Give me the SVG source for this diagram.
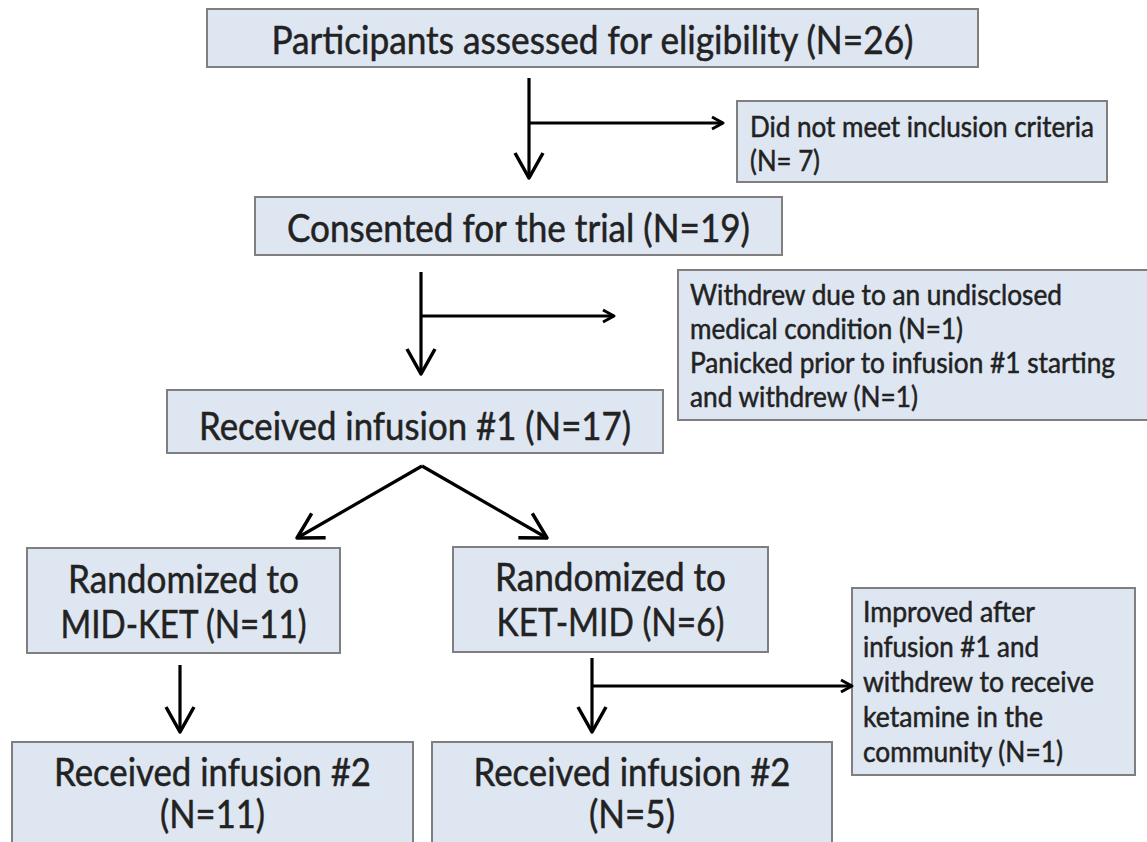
<svg xmlns="http://www.w3.org/2000/svg" width="1147" height="842" viewBox="0 0 1147 842">
<defs>
<style>
.box{fill:#dde6f1;stroke:#7f7f7f;stroke-width:2}
.t{font-family:Lato,"Liberation Sans",sans-serif;fill:#222;stroke:#222;stroke-width:0.5}
.big{font-size:38px;text-anchor:middle}
.sm{font-size:28px}
.ln{fill:none;stroke:#000;stroke-width:3.2}
</style>
<marker id="vb" markerUnits="userSpaceOnUse" viewBox="-30 -20 40 40" markerWidth="40" markerHeight="40" refX="0" refY="0" orient="auto" overflow="visible">
<path d="M-25,-14 L0,0 L-25,14" fill="none" stroke="#000" stroke-width="3.5" stroke-linejoin="round"/>
</marker>
<marker id="vs" markerUnits="userSpaceOnUse" viewBox="-20 -10 24 20" markerWidth="24" markerHeight="20" refX="0" refY="0" orient="auto" overflow="visible">
<path d="M-11,-6 L0,0 L-11,6" fill="none" stroke="#000" stroke-width="3" stroke-linejoin="round"/>
</marker>
</defs>
<rect width="1147" height="842" fill="#fff"/>
<g id="n-assessed">
<rect class="box" x="207" y="9" width="771" height="58"/>
<text class="t big" x="592.5" y="54" textLength="642" lengthAdjust="spacingAndGlyphs">Participants assessed for eligibility (N=26)</text>
</g>
<g id="n-excluded">
<rect class="box" x="737" y="101" width="370" height="81"/>
<text class="t sm" x="750" y="137" textLength="344" lengthAdjust="spacingAndGlyphs">Did not meet inclusion criteria</text>
<text class="t sm" x="750" y="171" textLength="70" lengthAdjust="spacingAndGlyphs">(N= 7)</text>
</g>
<g id="n-consented">
<rect class="box" x="255" y="197" width="527" height="58"/>
<text class="t big" x="518.5" y="242" textLength="463" lengthAdjust="spacingAndGlyphs">Consented for the trial (N=19)</text>
</g>
<g id="n-withdrew">
<rect class="box" x="678" y="270" width="475" height="150"/>
<text class="t sm" x="690" y="305" textLength="372" lengthAdjust="spacingAndGlyphs">Withdrew due to an undisclosed</text>
<text class="t sm" x="690" y="339" textLength="273" lengthAdjust="spacingAndGlyphs">medical condition (N=1)</text>
<text class="t sm" x="690" y="373" textLength="425" lengthAdjust="spacingAndGlyphs">Panicked prior to infusion #1 starting</text>
<text class="t sm" x="690" y="407" textLength="228" lengthAdjust="spacingAndGlyphs">and withdrew (N=1)</text>
</g>
<g id="n-infusion1">
<rect class="box" x="167" y="390" width="496" height="63"/>
<text class="t big" x="415" y="440" textLength="432" lengthAdjust="spacingAndGlyphs">Received infusion #1 (N=17)</text>
</g>
<g id="n-midket">
<rect class="box" x="27" y="548" width="313" height="105"/>
<text class="t big" x="183.5" y="593" textLength="231" lengthAdjust="spacingAndGlyphs">Randomized to</text>
<text class="t big" x="183.5" y="638" textLength="246" lengthAdjust="spacingAndGlyphs">MID-KET (N=11)</text>
</g>
<g id="n-ketmid">
<rect class="box" x="453" y="547" width="315" height="105"/>
<text class="t big" x="610.5" y="591" textLength="231" lengthAdjust="spacingAndGlyphs">Randomized to</text>
<text class="t big" x="610.5" y="636" textLength="228" lengthAdjust="spacingAndGlyphs">KET-MID (N=6)</text>
</g>
<g id="n-improved">
<rect class="box" x="852" y="588" width="283" height="187"/>
<text class="t sm" x="863" y="622" textLength="172" lengthAdjust="spacingAndGlyphs">Improved after</text>
<text class="t sm" x="863" y="657" textLength="176" lengthAdjust="spacingAndGlyphs">infusion #1 and</text>
<text class="t sm" x="863" y="692" textLength="231" lengthAdjust="spacingAndGlyphs">withdrew to receive</text>
<text class="t sm" x="863" y="727" textLength="180" lengthAdjust="spacingAndGlyphs">ketamine in the</text>
<text class="t sm" x="863" y="762" textLength="200" lengthAdjust="spacingAndGlyphs">community (N=1)</text>
</g>
<g id="n-infusion2a">
<rect class="box" x="12" y="742" width="401" height="110"/>
<text class="t big" x="212.5" y="786" textLength="317" lengthAdjust="spacingAndGlyphs">Received infusion #2</text>
<text class="t big" x="212.5" y="828" textLength="105" lengthAdjust="spacingAndGlyphs">(N=11)</text>
</g>
<g id="n-infusion2b">
<rect class="box" x="432" y="742" width="400" height="110"/>
<text class="t big" x="632" y="786" textLength="317" lengthAdjust="spacingAndGlyphs">Received infusion #2</text>
<text class="t big" x="632" y="828" textLength="86" lengthAdjust="spacingAndGlyphs">(N=5)</text>
</g>
<g id="connectors">
<path class="ln" d="M529,78 V178" marker-end="url(#vb)"/>
<path class="ln" d="M529,123 H723" marker-end="url(#vs)"/>
<path class="ln" d="M421,272 V374" marker-end="url(#vb)"/>
<path class="ln" d="M421,316 H614" marker-end="url(#vs)"/>
<path class="ln" d="M422,466 L297,538" marker-end="url(#vb)"/>
<path class="ln" d="M422,466 L547,538" marker-end="url(#vb)"/>
<path class="ln" d="M180,665 V732" marker-end="url(#vb)"/>
<path class="ln" d="M592,658 V732" marker-end="url(#vb)"/>
<path class="ln" d="M592,686 H852" marker-end="url(#vs)"/>
</g>
</svg>
